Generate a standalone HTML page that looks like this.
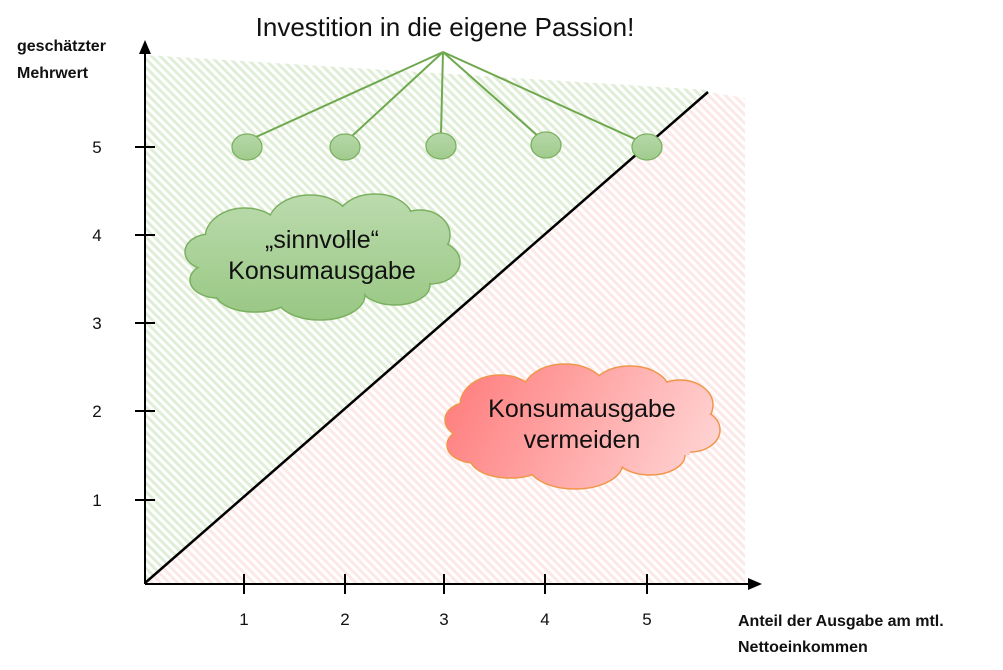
<!DOCTYPE html>
<html><head><meta charset="utf-8"><style>
body{margin:0;background:#fff;}
svg{display:block;font-family:"Liberation Sans",sans-serif;}
</style></head><body>
<svg width="1003" height="670" viewBox="0 0 1003 670">
<defs>
<pattern id="hg" width="6" height="6" patternUnits="userSpaceOnUse" patternTransform="rotate(-45)">
<rect width="6" height="6" fill="#fff"/><rect width="3" height="6" fill="#e0eed8"/></pattern>
<pattern id="hp" width="6" height="6" patternUnits="userSpaceOnUse" patternTransform="rotate(-45)">
<rect width="6" height="6" fill="#fff"/><rect width="3" height="6" fill="#fde8e8"/></pattern>
<linearGradient id="gg" gradientUnits="userSpaceOnUse" x1="0" y1="195" x2="0" y2="320"><stop offset="0" stop-color="#bbdbad"/><stop offset="1" stop-color="#98c783"/></linearGradient>
<linearGradient id="gc" x1="0" y1="0" x2="0" y2="1"><stop offset="0" stop-color="#b6d8a8"/><stop offset="1" stop-color="#a0cb8d"/></linearGradient>
<linearGradient id="pg" gradientUnits="userSpaceOnUse" x1="450" y1="365" x2="700" y2="490"><stop offset="0" stop-color="#ff7b7b"/><stop offset="1" stop-color="#ffd4d4"/></linearGradient>
</defs>
<polygon points="145,55 708,90 145,583" fill="url(#hg)"/>
<polygon points="145,583 708,92 745,98 745,583" fill="url(#hp)"/>

<!-- green cloud -->
<g stroke="#7ab05f" stroke-width="1.5" fill="url(#gg)">
<ellipse cx="245" cy="238" rx="40" ry="30"/><ellipse cx="310" cy="225" rx="42" ry="30"/>
<ellipse cx="375" cy="220" rx="38" ry="26"/><ellipse cx="420" cy="235" rx="30" ry="25"/>
<ellipse cx="430" cy="262" rx="30" ry="22"/><ellipse cx="395" cy="285" rx="35" ry="20"/>
<ellipse cx="320" cy="295" rx="45" ry="25"/><ellipse cx="255" cy="292" rx="40" ry="20"/>
<ellipse cx="218" cy="280" rx="28" ry="18"/><ellipse cx="210" cy="252" rx="25" ry="18"/>
</g>
<g fill="url(#gg)">
<ellipse cx="245" cy="238" rx="39" ry="29"/><ellipse cx="310" cy="225" rx="41" ry="29"/>
<ellipse cx="375" cy="220" rx="37" ry="25"/><ellipse cx="420" cy="235" rx="29" ry="24"/>
<ellipse cx="430" cy="262" rx="29" ry="21"/><ellipse cx="395" cy="285" rx="34" ry="19"/>
<ellipse cx="320" cy="295" rx="44" ry="24"/><ellipse cx="255" cy="292" rx="39" ry="19"/>
<ellipse cx="218" cy="280" rx="27" ry="17"/><ellipse cx="210" cy="252" rx="24" ry="17"/>
<rect x="225" y="240" width="200" height="50"/>
</g>
<!-- pink cloud -->
<g stroke="#f0964a" stroke-width="1.5" fill="url(#pg)">
<ellipse cx="500" cy="405" rx="40" ry="30"/><ellipse cx="565" cy="392" rx="42" ry="28"/>
<ellipse cx="630" cy="392" rx="40" ry="26"/><ellipse cx="680" cy="405" rx="33" ry="25"/>
<ellipse cx="690" cy="430" rx="30" ry="22"/><ellipse cx="650" cy="455" rx="35" ry="20"/>
<ellipse cx="575" cy="463" rx="48" ry="26"/><ellipse cx="510" cy="458" rx="40" ry="20"/>
<ellipse cx="475" cy="445" rx="28" ry="18"/><ellipse cx="470" cy="420" rx="25" ry="18"/>
</g>
<g fill="url(#pg)">
<ellipse cx="500" cy="405" rx="39" ry="29"/><ellipse cx="565" cy="392" rx="41" ry="27"/>
<ellipse cx="630" cy="392" rx="39" ry="25"/><ellipse cx="680" cy="405" rx="32" ry="24"/>
<ellipse cx="690" cy="430" rx="29" ry="21"/><ellipse cx="650" cy="455" rx="34" ry="19"/>
<ellipse cx="575" cy="463" rx="47" ry="25"/><ellipse cx="510" cy="458" rx="39" ry="19"/>
<ellipse cx="475" cy="445" rx="27" ry="17"/><ellipse cx="470" cy="420" rx="24" ry="17"/>
<rect x="480" y="405" width="210" height="50"/>
</g>
<g font-size="25" fill="#111" text-anchor="middle">
<text x="322" y="248">„sinnvolle“</text><text x="322" y="279">Konsumausgabe</text>
<text x="582" y="417">Konsumausgabe</text><text x="582" y="448">vermeiden</text>
</g>

<!-- diagonal -->
<line x1="145" y1="583" x2="708" y2="92" stroke="#000" stroke-width="2.5"/>
<!-- connectors -->
<g stroke="#6fa84f" stroke-width="2">
<line x1="443" y1="52" x2="256" y2="137"/><line x1="443" y1="52" x2="352" y2="136"/>
<line x1="443" y1="52" x2="441" y2="134"/><line x1="443" y1="52" x2="538" y2="136"/>
<line x1="443" y1="52" x2="635" y2="139"/>
</g>
<g fill="url(#gc)" stroke="#7ab05f" stroke-width="1.3">
<ellipse cx="247" cy="147" rx="15" ry="13"/><ellipse cx="345" cy="147" rx="15" ry="13"/>
<ellipse cx="441" cy="146" rx="15" ry="13"/><ellipse cx="546" cy="145" rx="15" ry="13"/>
<ellipse cx="647" cy="147" rx="15" ry="13"/>
</g>
<text x="445" y="36" font-size="26" text-anchor="middle" fill="#111">Investition in die eigene Passion!</text>

<!-- axes -->
<g stroke="#000" stroke-width="2">
<line x1="145" y1="584" x2="750" y2="584"/><line x1="145" y1="584" x2="145" y2="52"/>
<line x1="135" y1="147" x2="155" y2="147"/><line x1="135" y1="235" x2="155" y2="235"/>
<line x1="135" y1="323" x2="155" y2="323"/><line x1="135" y1="411" x2="155" y2="411"/>
<line x1="135" y1="500" x2="155" y2="500"/>
<line x1="244" y1="574" x2="244" y2="594"/><line x1="345" y1="574" x2="345" y2="594"/>
<line x1="444" y1="574" x2="444" y2="594"/><line x1="545" y1="574" x2="545" y2="594"/>
<line x1="647" y1="574" x2="647" y2="594"/>
</g>
<polygon points="145,40 139,54 151,54" fill="#000"/>
<polygon points="762,584 748,578 748,590" fill="#000"/>
<g font-size="17" fill="#111" text-anchor="middle">
<text x="97" y="153">5</text><text x="97" y="241">4</text><text x="97" y="329">3</text>
<text x="97" y="417">2</text><text x="97" y="506">1</text>
<text x="244" y="625">1</text><text x="345" y="625">2</text><text x="444" y="625">3</text>
<text x="545" y="625">4</text><text x="647" y="625">5</text>
</g>
<g font-size="16" font-weight="bold" fill="#111">
<text x="17" y="51">geschätzter</text><text x="17" y="78">Mehrwert</text>
<text x="738" y="626">Anteil der Ausgabe am mtl.</text><text x="738" y="652">Nettoeinkommen</text>
</g>
</svg>
</body></html>
